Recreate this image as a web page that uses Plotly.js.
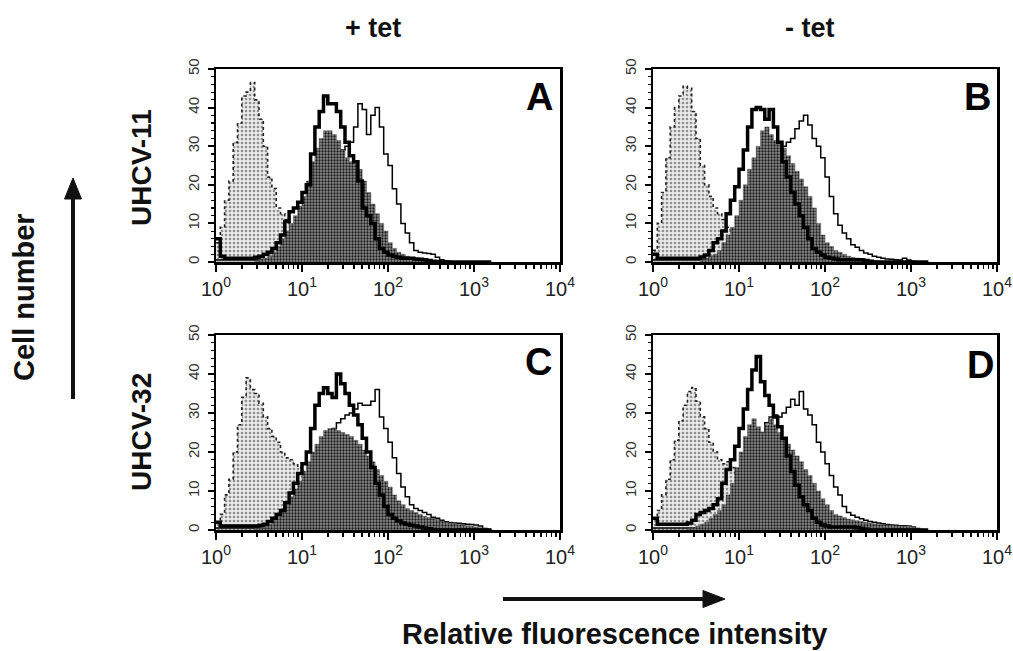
<!DOCTYPE html>
<html>
<head>
<meta charset="utf-8">
<script src="https://cdn.plot.ly/plotly-3.0.1.min.js"></script>
<style>html,body{margin:0;padding:0;background:#fff;}#chart{width:1013px;height:651px;}</style>
</head>
<body>
<div id="chart"></div>
<script>
// Bin positions in decades (log10 of fluorescence), 0.05-decade channels from 10^0 to 10^3.2
const binDecades = [0,0.05,0.1,0.15,0.2,0.25,0.3,0.35,0.4,0.45,0.5,0.55,0.6,0.65,0.7,0.75,0.8,0.85,0.9,0.95,
  1,1.05,1.1,1.15,1.2,1.25,1.3,1.35,1.4,1.45,1.5,1.55,1.6,1.65,1.7,1.75,1.8,1.85,1.9,1.95,
  2,2.05,2.1,2.15,2.2,2.25,2.3,2.35,2.4,2.45,2.5,2.55,2.6,2.65,2.7,2.75,2.8,2.85,2.9,2.95,
  3,3.05,3.1,3.15,3.2];

// Panel A (UHCV-11, + tet)
const ctrlA  = [5,9,16,21,31,36,43,44,46.5,42, 37,30,22,19,14,12.5,11,9.5,6,4, 2,1,0.5,0,0,0,0,0,0,0, 0,0,0,0,0,0,0,0,0,0, 0,0,0,0,0,0,0,0,0,0, 0,0,0,0,0,0,0,0,0,0, 0,0,0,0,0];
const filledA= [0,0,0,0,0,0,0,0,0,0.2, 0.5,1,1.5,2.5,4,6,8,10,12,14.5, 17,21,26,29.5,32,34,34,33,31.5,29, 27,26,25.5,24,21,18,15,12.5,10,8, 5,3.5,2.5,2,1.5,1.2,1,0.8,0.6,0.4, 0.3,0.2,0.1,0,0,0,0,0,0,0, 0,0,0,0,0];
const thinA  = [0.5,0.5,0.5,0.5,0.5,0.5,0.5,0.5,0.5,0.5, 0.5,0.5,0.5,1,1.5,2.5,3.5,5,7,9, 11,13,16,19,22,24,26,27,28,29, 30,31,35,41,39.5,33,38,40,35,28, 25,19,15,10,7.5,5,3,2.5,2.3,2.2, 2,1.2,0.6,0.3,0.1,0,0,0,0,0, 0,0,0,0,0];
const thickA = [6,1.5,1,1,1,1,1,1,1,1.2, 1.5,2,2.5,3.5,5,7,10.5,13,14,15.5, 18,20,28,35,39,43,41,41,39,35, 31,27.5,26,21,14,12,10,6,3.5,2.5, 1.8,1.5,1.2,1,1,1,0.8,0.7,0.6,0.4, 0.2,0.1,0,0,0,0,0,0,0,0, 0,0,0,0,0];

// Panel B (UHCV-11, - tet)
const ctrlB  = [3,10,18,27,35,40,43,45.5,45,39, 32,25,20,17,14,12.5,11,9,6,3.5, 2,1,0.5,0,0,0,0,0,0,0, 0,0,0,0,0,0,0,0,0,0, 0,0,0,0,0,0,0,0,0,0, 0,0,0,0,0,0,0,0,0,0, 0,0,0,0,0];
const filledB= [0,0,0,0,0,0,0,0,0,0, 0,0.5,1,1.5,2,3,5,7,9,12, 16,20,24,27,30,34,35,33,31.5,30.5, 29.5,27.5,25.5,23.5,21.5,19.5,17,14,10,7, 5,4,3,2.5,2,1.5,1.2,1,0.8,0.6, 0.5,0.4,0.3,0.2,0.1,0,0,0,0,0, 0,0,0,0,0];
const thinB  = [0.5,0.5,0.5,0.5,0.5,0.5,0.5,0.5,0.5,0.5, 0.5,0.5,0.5,1,1.5,2,3,4.5,6,8, 10,12.5,15,18,21,24,26,28,29,29.5, 30,31,32,34.5,36.5,38,35.5,32,30,27, 22,17,12.5,9.5,7.5,6,4.5,3.8,3,2.3, 2,1.5,1.2,1,0.8,0.7,0.6,0.5,1,0.5, 0.2,0,0,0,0];
const thickB = [2,1,1,1,1,1,1,1,1,1, 1,1.3,1.8,3,5,6,8,12.5,16,19.5, 24,29,35,39.5,40,39.5,37,39.5,35,31, 26,22,18,15,12,9,6,3.5,2.5,1.8, 1.2,1,0.8,0.6,0.6,0.6,0.6,0.6,0.6,0.4, 0.2,0,0,0,0,0,0,0,0,0, 0,0,0,0,0];

// Panel C (UHCV-32, + tet)
const ctrlC  = [2,4,9,13,20,27,34,39,36,35, 32.5,29,26,24,22.5,20,18.5,18,17,16, 15,12,9,6,4,2.5,1.5,1,0.5,0, 0,0,0,0,0,0,0,0,0,0, 0,0,0,0,0,0,0,0,0,0, 0,0,0,0,0,0,0,0,0,0, 0,0,0,0,0];
const filledC= [0,0,0,0,0,0,0,0,0,0.3, 0.5,1,1.5,2.5,3.5,5,6.5,8.5,10.5,12.5, 15,17.5,20,22,24,25.5,26,26,25.5,25, 24.5,24,23,22,20.5,19,17.5,15.5,14,12.5, 11,9,7.5,6.5,5.5,5,4.5,4,3.5,3.2, 3,2.7,2.3,2,1.8,1.6,1.4,1.3,1.1,1, 0.8,0.6,0.4,0.2,0];
const thinC  = [0.5,0.5,0.5,0.5,0.5,0.5,0.5,0.5,0.5,0.5, 0.5,0.5,0.5,1,1.5,2,3,4,5.5,7, 9,11,13.5,16,19,21.5,24,26,27.5,28.5, 29.5,30,31,32.5,32,32,33,36,29,26, 22.5,18.5,14.5,11,8.5,6.5,5.5,5,4.5,4, 3.3,3,2.5,2.1,1.9,1.8,1.7,1.6,1.5,1.4, 1.3,1,0.4,0.1,0];
const thickC = [2,1,1,1,1,1,1,1,1,1, 1.2,1.5,2.2,3,4,5,7,9.5,12,14.5, 17,20,26,32,35,36.5,35,34,40,37.5, 35,32,29.5,27,23.5,20,16,12,9,6, 4,3,2.3,1.8,1.5,1.2,1,0.8,0.5,0.3, 0.1,0,0,0,0,0,0,0,0,0, 0,0,0,0,0];

// Panel D (UHCV-32, - tet)
const ctrlD  = [3,5,9,13,18,23,28,32,35.5,36.5, 33,29,26,22.5,20,18,17,17.5,16,14, 11,8,5,3,1.5,0.8,0.3,0,0,0, 0,0,0,0,0,0,0,0,0,0, 0,0,0,0,0,0,0,0,0,0, 0,0,0,0,0,0,0,0,0,0, 0,0,0,0,0];
const filledD= [0,0,0,0,0,0,0,0,0.3,0.5, 1,1.5,2,3,4,5,6.5,9,12,16, 20,24,27,28.5,26.5,25,27,28.5,27,25, 23.5,22,20.5,19,17.5,15.5,14,12,10,8, 6.5,5,4,3.6,3.2,2.8,2.6,2.4,2.2,2, 1.8,1.6,1.5,1.4,1.3,1.2,1.1,1,1,1, 0.8,0.4,0.1,0,0];
const thinD  = [0.5,0.5,0.5,0.5,0.5,0.5,0.5,0.5,0.5,0.5, 0.5,0.5,0.5,1,1.5,2,3,4.5,6,8, 10.5,13,16,19,22,25,27.5,29,29.5,29, 30,31.5,33.5,32,35.5,31,29.5,27,22.5,20, 17,14,11,9,6,4.5,3.8,3.3,2.9,2.5, 2.2,2,1.8,1.6,1.4,1.3,1.2,1.1,1.1,1, 0.8,0.4,0.1,0,0];
const thickD = [3,1.5,1.5,1.5,1.5,1.5,1.5,1.5,1.8,2.5, 4,4.5,5,5.5,6.5,8,12,15.5,18,21.5, 26,31,36,41,44.5,38,34.5,32,29,26.5, 23.5,19,15,11.5,8.5,6.5,5,3,2,1.3, 1,0.8,0.8,0.8,0.8,0.8,0.8,0.6,0.4,0.2, 0,0,0,0,0,0,0,0,0,0, 0,0,0,0,0];

const panelLetters = ['A','B','C','D'];
const columnTitles = ['+ tet','- tet'];
const rowTitles = ['UHCV-11','UHCV-32'];
const xTickVals = [1,10,100,1000,10000];
const xTickText = ['10<sup>0</sup>','10<sup>1</sup>','10<sup>2</sup>','10<sup>3</sup>','10<sup>4</sup>'];
const yTickVals = [0,10,20,30,40,50];

const W = 1013, H = 651;
const FONT = 'Liberation Sans, Arial, Helvetica, sans-serif';
const xs = binDecades.map(d => Math.pow(10, d));

const panels = [
  {ctrl: ctrlA, filled: filledA, thin: thinA, thick: thickA, xd: [216, 560], yd: [69, 262], letter: [539, 97]},
  {ctrl: ctrlB, filled: filledB, thin: thinB, thick: thickB, xd: [653, 997], yd: [69, 262], letter: [977, 97]},
  {ctrl: ctrlC, filled: filledC, thin: thinC, thick: thickC, xd: [216, 560], yd: [335, 530], letter: [538, 362]},
  {ctrl: ctrlD, filled: filledD, thin: thinD, thick: thickD, xd: [653, 997], yd: [335, 530], letter: [980, 365]}
];

const minorX = [];
[1,10,100,1000].forEach(b => { for (let k = 2; k <= 9; k++) minorX.push(b * k); });

const traces = [];
const layout = {
  width: W, height: H,
  margin: {l: 0, r: 0, t: 0, b: 0},
  paper_bgcolor: '#fff', plot_bgcolor: '#fff',
  showlegend: false,
  font: {family: FONT, color: '#111', size: 14},
  annotations: [], shapes: []
};

panels.forEach((p, i) => {
  const n = i === 0 ? '' : String(i + 1);
  const xa = 'x' + n, ya = 'y' + n;
  const common = {x: xs, xaxis: xa, yaxis: ya, mode: 'lines', hoverinfo: 'skip'};
  traces.push(Object.assign({}, common, {
    y: p.ctrl, line: {shape: 'hv', color: '#222', width: 1.6, dash: 'dot'},
    fill: 'tozeroy', fillcolor: '#e0e0e0',
    fillpattern: {shape: '.', bgcolor: '#eaeaea', fgcolor: '#8f8f8f', size: 4, solidity: 0.35}
  }));
  traces.push(Object.assign({}, common, {
    y: p.thin, line: {shape: 'hv', color: '#000', width: 1.5}
  }));
  traces.push(Object.assign({}, common, {
    y: p.filled, line: {shape: 'hv', color: '#555', width: 0.5},
    fill: 'tozeroy', fillcolor: '#707070',
    fillpattern: {shape: '.', bgcolor: '#8c8c8c', fgcolor: '#1a1a1a', size: 3, solidity: 0.45}
  }));
  traces.push(Object.assign({}, common, {
    y: p.thick, line: {shape: 'hv', color: '#000', width: 3.5}
  }));

  layout['xaxis' + n] = {
    type: 'log', range: [0, 4], domain: [p.xd[0] / W, p.xd[1] / W], anchor: ya,
    tickmode: 'array', tickvals: xTickVals, ticktext: xTickText,
    ticks: 'outside', ticklen: 7, tickwidth: 2, tickcolor: '#000',
    minor: {tickmode: 'array', tickvals: minorX, ticks: 'outside', ticklen: 4, tickwidth: 1.5, tickcolor: '#000', showgrid: false},
    showline: true, linewidth: 2.5, linecolor: '#000', mirror: true,
    showgrid: false, zeroline: false,
    tickfont: {family: FONT, size: 20, color: '#222'}
  };
  layout['yaxis' + n] = {
    range: [0, 50], domain: [1 - p.yd[1] / H, 1 - p.yd[0] / H], anchor: xa,
    tickmode: 'array', tickvals: yTickVals, tickangle: -90,
    ticks: 'outside', ticklen: 6, tickwidth: 2, tickcolor: '#000',
    minor: {tickmode: 'linear', tick0: 0, dtick: 2, ticks: 'outside', ticklen: 3, tickwidth: 1.2, tickcolor: '#000', showgrid: false},
    showline: true, linewidth: 2.5, linecolor: '#000', mirror: true,
    showgrid: false, zeroline: false, ticklabelstandoff: 3,
    tickfont: {family: FONT, size: 15, color: '#333'}
  };
  layout.annotations.push({
    text: '<b>' + panelLetters[i] + '</b>', xref: 'paper', yref: 'paper',
    x: p.letter[0] / W, y: 1 - p.letter[1] / H, xanchor: 'center', yanchor: 'middle',
    showarrow: false, font: {family: FONT, size: 38, color: '#000'}
  });
});

function ann(text, x, y, size, angle) {
  layout.annotations.push({
    text: '<b>' + text + '</b>', xref: 'paper', yref: 'paper',
    x: x / W, y: 1 - y / H, xanchor: 'center', yanchor: 'middle',
    showarrow: false, textangle: angle || 0,
    font: {family: FONT, size: size, color: '#111'}
  });
}
ann(columnTitles[0], 373, 28, 27);
ann(columnTitles[1], 810, 28, 27);
ann(rowTitles[0], 141, 168, 28, -90);
ann(rowTitles[1], 141, 432, 28, -90);
ann('Cell number', 24, 297, 29, -90);
ann('Relative fluorescence intensity', 615, 634, 29);

function P(x, y) { return (x / W).toFixed(5) + ',' + (1 - y / H).toFixed(5); }
// vertical arrow
layout.shapes.push({type: 'line', xref: 'paper', yref: 'paper', x0: 73 / W, x1: 73 / W, y0: 1 - 399 / H, y1: 1 - 196 / H, line: {color: '#111', width: 4}});
layout.shapes.push({type: 'path', xref: 'paper', yref: 'paper', path: 'M' + P(64.5, 199) + ' L' + P(81.5, 199) + ' L' + P(73, 178) + ' Z', fillcolor: '#111', line: {color: '#111', width: 1}});
// horizontal arrow
layout.shapes.push({type: 'line', xref: 'paper', yref: 'paper', x0: 503 / W, x1: 706 / W, y0: 1 - 599 / H, y1: 1 - 599 / H, line: {color: '#111', width: 4}});
layout.shapes.push({type: 'path', xref: 'paper', yref: 'paper', path: 'M' + P(703, 590.5) + ' L' + P(725, 599) + ' L' + P(703, 607.5) + ' Z', fillcolor: '#111', line: {color: '#111', width: 1}});

Plotly.newPlot('chart', traces, layout, {staticPlot: true, displayModeBar: false});
</script>
</body>
</html>
